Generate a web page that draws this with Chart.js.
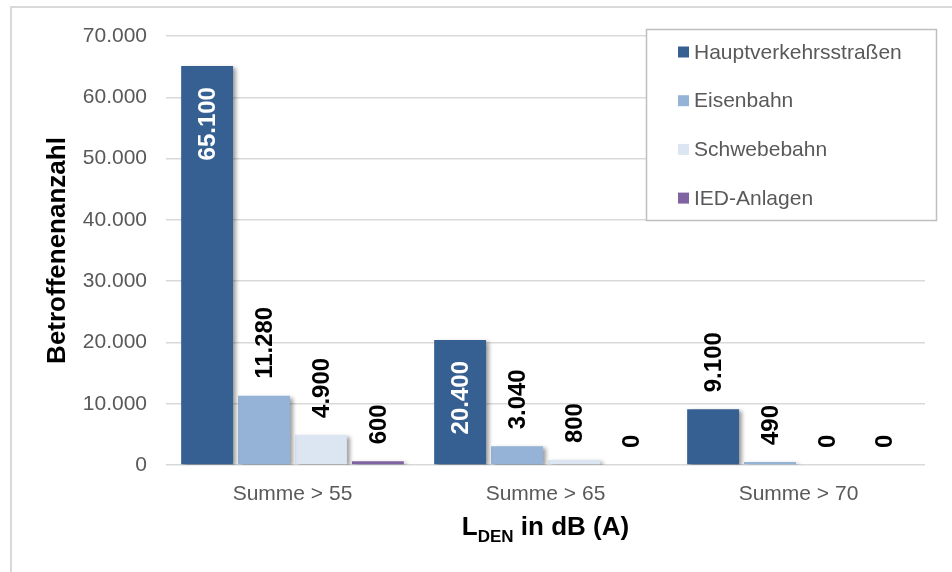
<!DOCTYPE html>
<html lang="de">
<head>
<meta charset="utf-8">
<title>Betroffenenanzahl nach LDEN</title>
<script src="https://cdn.jsdelivr.net/npm/chart.js@4.4.1/dist/chart.umd.min.js"></script>
<style>
  html, body { margin: 0; padding: 0; background: #fff; }
  #wrap { width: 952px; height: 572px; }
</style>
</head>
<body>
<div id="wrap"><canvas id="laermChart" width="952" height="572"></canvas></div>
<script>
// Daten
const categories = ['Summe > 55', 'Summe > 65', 'Summe > 70'];
const hauptverkehrsstrassen = [65100, 20400, 9100];
const eisenbahn = [11280, 3040, 490];
const schwebebahn = [4900, 800, 0];
const iedAnlagen = [600, 0, 0];
const seriesNames = ['Hauptverkehrsstraßen', 'Eisenbahn', 'Schwebebahn', 'IED-Anlagen'];
const yMax = 70000;
const yStep = 10000;

const FONT = '"Liberation Sans", Arial, sans-serif';
const colors = ['#366092', '#95b3d7', '#dce6f2', '#8064a2'];

// 65100 -> "65.100"
function fmt(v) {
    return String(Math.round(v)).replace(/\B(?=(\d{3})+(?!\d))/g, '.');
}

// Rahmen um das ganze Diagramm
const framePlugin = {
    id: 'frame',
    beforeDraw(chart) {
        const ctx = chart.ctx;
        ctx.save();
        ctx.fillStyle = '#fff';
        ctx.fillRect(0, 0, chart.width, chart.height);
        ctx.strokeStyle = '#d9d9d9';
        ctx.lineWidth = 2;
        ctx.strokeRect(11, 7, chart.width + 20, chart.height + 20);
        ctx.restore();
    }
};

// Schatten unter den Balken
const shadowPlugin = {
    id: 'barShadow',
    beforeDatasetsDraw(chart) {
        const ctx = chart.ctx;
        ctx.save();
        ctx.shadowColor = 'rgba(0,0,0,0.38)';
        ctx.shadowBlur = 4;
        ctx.shadowOffsetX = 3;
        ctx.shadowOffsetY = 2;
    },
    afterDatasetsDraw(chart) {
        chart.ctx.restore();
    }
};

// Wertebeschriftung, senkrecht
const labelPlugin = {
    id: 'valueLabels',
    afterDatasetsDraw(chart) {
        const ctx = chart.ctx;
        ctx.save();
        ctx.font = 'bold 24px ' + FONT;
        ctx.textBaseline = 'middle';
        chart.data.datasets.forEach((ds, i) => {
            const meta = chart.getDatasetMeta(i);
            meta.data.forEach((bar, j) => {
                const v = ds.data[j];
                const txt = fmt(v);
                const w = ctx.measureText(txt).width;
                const h = bar.base - bar.y;
                ctx.save();
                if (h > w + 40) {
                    ctx.translate(bar.x, bar.y + 21);
                    ctx.rotate(-Math.PI / 2);
                    ctx.textAlign = 'right';
                    ctx.fillStyle = '#fff';
                } else {
                    ctx.translate(bar.x, bar.y - 17);
                    ctx.rotate(-Math.PI / 2);
                    ctx.textAlign = 'left';
                    ctx.fillStyle = '#000';
                }
                ctx.fillText(txt, 0, 1);
                ctx.restore();
            });
        });
        ctx.restore();
    }
};

// Legende im Kasten oben rechts + x-Achsentitel mit Index
const legendPlugin = {
    id: 'boxLegend',
    afterDraw(chart) {
        const ctx = chart.ctx;
        ctx.save();
        const bx = 646.5, by = 29.5, bw = 290, bh = 191;
        ctx.fillStyle = '#fff';
        ctx.fillRect(bx, by, bw, bh);
        ctx.strokeStyle = '#bfbfbf';
        ctx.lineWidth = 1.5;
        ctx.strokeRect(bx, by, bw, bh);
        ctx.font = '21px ' + FONT;
        ctx.textBaseline = 'middle';
        ctx.textAlign = 'left';
        chart.data.datasets.forEach((ds, i) => {
            const y = 52 + i * 48.7;
            ctx.fillStyle = ds.backgroundColor;
            ctx.fillRect(678, y - 5.5, 11, 11);
            ctx.fillStyle = '#595959';
            ctx.fillText(ds.label, 694, y + 1);
        });

        // x-Achsentitel: L_DEN in dB (A)
        const area = chart.chartArea;
        const big = 'bold 26px ' + FONT;
        const small = 'bold 17px ' + FONT;
        ctx.textBaseline = 'alphabetic';
        ctx.font = big;
        const wL = ctx.measureText('L').width;
        const wRest = ctx.measureText(' in dB (A)').width;
        ctx.font = small;
        const wSub = ctx.measureText('DEN').width;
        let x = (area.left + area.right) / 2 - (wL + wSub + wRest) / 2;
        const base = 535;
        ctx.fillStyle = '#000';
        ctx.font = big;
        ctx.fillText('L', x, base);
        x += wL;
        ctx.font = small;
        ctx.fillText('DEN', x, base + 7);
        x += wSub;
        ctx.font = big;
        ctx.fillText(' in dB (A)', x, base);
        ctx.restore();
    }
};

const ctx = document.getElementById('laermChart').getContext('2d');
new Chart(ctx, {
    type: 'bar',
    data: {
        labels: categories,
        datasets: [
            { label: seriesNames[0], data: hauptverkehrsstrassen, backgroundColor: colors[0] },
            { label: seriesNames[1], data: eisenbahn, backgroundColor: colors[1] },
            { label: seriesNames[2], data: schwebebahn, backgroundColor: colors[2] },
            { label: seriesNames[3], data: iedAnlagen, backgroundColor: colors[3] }
        ]
    },
    options: {
        responsive: false,
        animation: false,
        devicePixelRatio: 1,
        layout: { padding: { left: 0, right: 27, top: 36, bottom: 0 } },
        datasets: {
            bar: {
                categoryPercentage: 0.9,
                barPercentage: 0.912,
                borderWidth: 0
            }
        },
        plugins: {
            legend: { display: false },
            tooltip: { enabled: false }
        },
        scales: {
            x: {
                grid: { display: false },
                border: { display: false },
                ticks: {
                    color: '#595959',
                    font: { family: FONT, size: 21 },
                    padding: 9
                },
                afterFit(scale) { scale.height = 107; }
            },
            y: {
                min: 0,
                max: yMax,
                grid: { color: '#d9d9d9', lineWidth: 1.5, drawTicks: false },
                border: { display: false },
                ticks: {
                    stepSize: yStep,
                    color: '#595959',
                    font: { family: FONT, size: 21 },
                    padding: 19,
                    callback: v => fmt(v)
                },
                title: {
                    display: true,
                    text: 'Betroffenenanzahl',
                    color: '#000',
                    font: { family: FONT, size: 26, weight: 'bold' },
                    padding: { top: 42, bottom: 0 }
                },
                afterFit(scale) { scale.width = 166; }
            }
        }
    },
    plugins: [framePlugin, shadowPlugin, labelPlugin, legendPlugin]
});
</script>
</body>
</html>
